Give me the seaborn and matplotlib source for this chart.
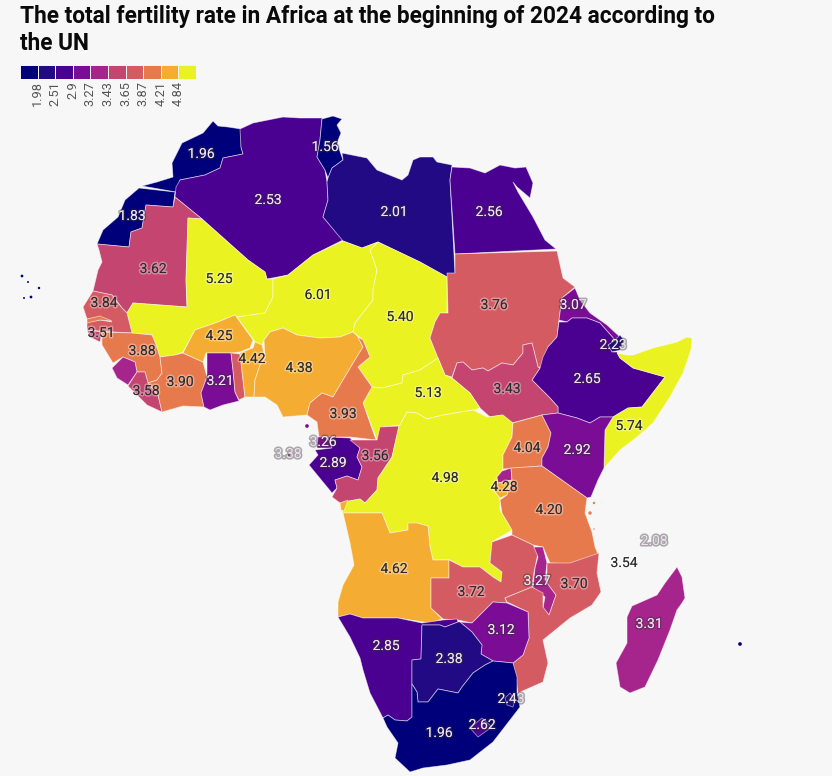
import matplotlib
matplotlib.use("Agg")
import matplotlib.pyplot as plt
import matplotlib.patheffects as pe
from matplotlib.colors import ListedColormap
import bisect
import numpy as np
import pandas as pd
import seaborn as sns

BG = "#f7f7f7"
sns.set_theme(style="white", rc={"figure.facecolor": BG, "axes.facecolor": BG})
plt.rcParams["font.family"] = ["Roboto", "DejaVu Sans"]

TITLE = "The total fertility rate in Africa at the beginning of 2024 according to\nthe UN"
BREAKS = [1.98, 2.51, 2.9, 3.27, 3.43, 3.65, 3.87, 4.21, 4.84]
BREAK_LABELS = ["1.98", "2.51", "2.9", "3.27", "3.43", "3.65", "3.87", "4.21", "4.84"]
COLORS = ["#00007a", "#210a84", "#4a0091", "#7a0c96", "#a6258d",
          "#c4456f", "#d55b63", "#e77a4c", "#f4ad32", "#ebf222"]

COUNTRIES = ["Morocco", "W. Sahara", "Algeria", "Tunisia", "Libya", "Egypt", "Mauritania", "Mali", "Niger",
             "Chad", "Sudan", "Eritrea", "Djibouti", "Ethiopia", "Somalia", "S. Sudan", "CAR", "Senegal",
             "Gambia", "Guinea-Bissau", "Guinea", "Sierra Leone", "Liberia", "Ivory Coast", "Burkina Faso",
             "Ghana", "Togo", "Benin", "Nigeria", "Cameroon", "Eq. Guinea", "Gabon", "Congo", "DR Congo",
             "Uganda", "Kenya", "Rwanda", "Burundi", "Tanzania", "Angola", "Cabinda", "Zambia", "Malawi",
             "Mozambique", "Zimbabwe", "Madagascar", "Namibia", "Botswana", "South Africa", "Lesotho",
             "Eswatini"]
VALUES = [1.96, 1.83, 2.53, 1.56, 2.01, 2.56, 3.62, 5.25, 6.01,
          5.40, 3.76, 3.07, 2.23, 2.65, 5.74, 3.43, 5.13, 3.84,
          4.00, 3.51, 3.88, 3.30, 3.58, 3.90, 4.25,
          3.21, 3.80, 4.42, 4.38, 3.93, 3.26, 2.89, 3.56, 4.98,
          4.04, 2.92, 3.30, 4.28, 4.20, 4.62, 4.62, 3.72, 3.27,
          3.70, 3.12, 3.31, 2.85, 2.38, 1.96, 2.62, 2.43]

OUTLINES = {
 "Morocco": [(213,121),(218,126),(228,127),(241,129),(241,147),(243,154),(223,158),(220,168),(205,175),(180,180),(176,192),(142,186),(157,182),(173,177),(172,163),(182,143),(203,133)],
 "W. Sahara": [(139,188),(175,192),(173,207),(146,205),(142,228),(131,232),(129,247),(97,244),(103,230),(118,217),(125,200)],
 "Mauritania": [(175,197),(202,219),(188,218),(186,280),(187,307),(133,303),(127,313),(122,308),(112,295),(93,291),(98,270),(102,262),(99,250),(97,244),(129,247),(131,232),(142,228),(146,205),(173,207)],
 "Algeria": [(240,129),(253,123),(283,117),(300,118),(322,118),(320,140),(317,157),(325,170),(327,182),(328,200),(323,217),(343,240),(313,255),(288,275),(267,279),(265,272),(248,260),(202,219),(175,197),(176,187),(180,180),(205,175),(220,168),(223,158),(243,154),(241,147)],
 "Tunisia": [(322,119),(333,116),(342,119),(337,125),(341,133),(337,143),(343,160),(332,168),(328,178),(325,170),(317,157),(320,140)],
 "Libya": [(342,153),(367,158),(377,170),(402,180),(408,175),(413,160),(420,157),(433,157),(437,162),(452,165),(450,180),(455,273),(447,277),(420,262),(378,242),(362,248),(343,241),(323,217),(328,200),(327,182),(328,178),(332,168),(343,160)],
 "Egypt": [(452,167),(470,168),(485,173),(500,165),(515,168),(526,167),(533,183),(530,198),(517,187),(513,182),(518,192),(533,217),(545,240),(556,249),(455,254),(450,180)],
 "Sudan": [(455,254),(557,251),(563,278),(575,287),(562,298),(559,320),(557,337),(548,347),(542,367),(538,367),(532,343),(523,345),(523,353),(513,365),(502,363),(488,371),(483,368),(472,370),(463,362),(457,363),(452,377),(445,375),(438,358),(430,338),(435,322),(440,313),(448,313),(447,273),(455,273)],
 "S. Sudan": [(457,363),(463,362),(472,370),(483,368),(488,371),(502,363),(513,365),(523,353),(523,345),(532,343),(538,367),(540,368),(532,380),(550,398),(558,407),(558,413),(542,415),(512,423),(502,415),(490,417),(480,408),(470,393),(452,378)],
 "Eritrea": [(575,288),(580,300),(590,313),(607,325),(620,337),(615,340),(600,323),(587,318),(572,318),(567,322),(559,320),(562,298)],
 "Djibouti": [(620,335),(624,340),(620,350),(612,352),(608,345),(615,340)],
 "Ethiopia": [(559,322),(567,322),(572,318),(587,318),(600,323),(615,340),(608,345),(612,352),(617,352),(620,358),(633,368),(665,377),(642,407),(628,408),(613,417),(600,417),(590,423),(577,418),(558,413),(558,407),(550,398),(532,380),(540,368),(543,357),(548,347),(557,337)],
 "Somalia": [(617,353),(627,355),(633,355),(653,348),(677,342),(687,337),(692,338),(691,350),(683,373),(670,397),(653,423),(637,437),(620,450),(604,468),(605,430),(613,417),(628,408),(642,407),(665,377),(633,368),(620,358)],
 "Kenya": [(542,415),(558,413),(577,418),(590,423),(600,417),(613,417),(605,430),(604,468),(598,480),(591,497),(587,498),(542,466),(542,458),(548,447),(551,433)],
 "Uganda": [(513,423),(542,415),(551,433),(548,447),(542,458),(542,466),(503,469),(503,455),(512,437)],
 "Tanzania": [(511,468),(542,466),(587,498),(585,513),(592,532),(595,547),(598,554),(573,564),(550,563),(543,547),(533,545),(512,535),(512,530),(502,513),(500,500),(507,495),(512,480)],
 "Rwanda": [(497,477),(502,471),(511,468),(512,480),(498,483)],
 "Burundi": [(498,483),(512,480),(507,495),(500,498),(492,488)],
 "DR Congo": [(400,425),(407,412),(417,413),(427,419),(443,415),(473,410),(487,417),(503,415),(513,423),(512,437),(503,455),(503,469),(497,477),(498,483),(492,488),(500,498),(500,510),(512,530),(492,542),(490,563),(502,572),(501,582),(493,577),(480,567),(463,567),(450,560),(433,560),(430,547),(428,526),(417,523),(408,525),(408,530),(390,533),(382,513),(342,513),(344,502),(360,499),(365,503),(377,490),(378,478),(392,457),(399,426)],
 "Chad": [(378,242),(420,262),(447,277),(447,313),(440,313),(435,322),(430,338),(438,358),(420,370),(403,375),(402,383),(382,388),(372,387),(358,367),(370,357),(363,340),(353,332),(355,323),(373,300),(373,290),(377,270),(370,250)],
 "Niger": [(343,241),(362,248),(378,242),(370,250),(377,270),(373,290),(373,300),(355,323),(353,332),(340,337),(320,338),(297,335),(283,328),(270,332),(264,340),(262,345),(255,342),(253,339),(237,317),(265,313),(273,297),(273,279),(288,275),(313,255)],
 "Mali": [(188,218),(202,219),(248,260),(265,272),(267,279),(273,279),(273,297),(265,313),(237,317),(235,315),(218,322),(195,330),(183,352),(175,355),(160,357),(155,342),(152,335),(132,333),(127,313),(133,303),(187,307),(186,280)],
 "Burkina Faso": [(195,330),(218,322),(235,315),(253,340),(250,348),(240,352),(231,353),(206,353),(203,362),(183,353)],
 "Ghana": [(207,353),(231,353),(233,370),(235,392),(239,401),(223,405),(210,410),(204,407),(201,393),(207,377)],
 "Togo": [(231,353),(240,354),(245,397),(239,400),(235,392),(233,370)],
 "Benin": [(240,353),(253,348),(255,342),(262,345),(265,358),(260,365),(255,380),(254,397),(245,397)],
 "Nigeria": [(264,340),(270,332),(283,328),(297,335),(320,338),(340,337),(353,332),(358,337),(363,347),(355,360),(343,380),(333,397),(322,393),(310,403),(307,415),(283,417),(277,405),(265,397),(254,397),(255,380),(260,365),(265,358)],
 "Cameroon": [(358,337),(363,340),(370,357),(358,367),(372,387),(363,403),(376,440),(350,437),(319,437),(317,422),(307,415),(310,403),(322,393),(333,397),(343,380),(355,360),(363,347)],
 "CAR": [(420,370),(438,358),(445,375),(452,378),(470,393),(480,408),(473,410),(443,415),(427,419),(417,413),(407,412),(400,425),(383,427),(377,440),(363,403),(372,387),(382,388),(402,383),(403,375)],
 "Congo": [(350,440),(377,440),(380,427),(399,426),(392,457),(378,478),(377,490),(365,503),(360,499),(344,502),(340,503),(332,497),(337,488),(335,480),(347,476),(358,480),(362,467),(357,457),(360,448)],
 "Eq. Guinea": [(318,437),(328,437),(332,448),(317,448)],
 "Gabon": [(328,437),(350,438),(360,448),(357,457),(362,467),(358,480),(347,476),(335,480),(337,488),(332,493),(309,465),(318,455),(315,450),(332,448)],
 "Cabinda": [(340,503),(348,500),(344,511),(341,510)],
 "Angola": [(343,513),(382,513),(390,533),(408,530),(408,523),(417,523),(428,526),(430,547),(433,560),(449,560),(449,578),(431,578),(431,608),(442,619),(430,623),(398,618),(363,618),(350,614),(338,617),(338,602),(343,585),(354,565),(350,543)],
 "Zambia": [(449,560),(463,567),(480,567),(493,577),(501,582),(502,572),(490,563),(492,542),(512,535),(533,545),(538,553),(534,572),(532,587),(505,598),(507,603),(493,602),(478,617),(472,623),(458,620),(443,619),(431,608),(431,578),(449,578)],
 "Malawi": [(534,547),(543,547),(547,563),(545,580),(556,595),(549,615),(543,608),(545,597),(533,588),(535,568),(538,557)],
 "Mozambique": [(547,563),(570,563),(599,553),(597,573),(601,592),(592,605),(570,618),(543,640),(548,663),(543,682),(518,693),(513,663),(523,655),(529,638),(528,612),(507,602),(505,598),(532,587),(543,593),(543,607),(549,615),(556,595),(547,583)],
 "Zimbabwe": [(493,602),(507,603),(528,612),(529,638),(523,655),(513,663),(493,661),(481,654),(482,645),(472,632),(460,622),(472,623),(478,617)],
 "Namibia": [(338,617),(350,614),(363,618),(398,618),(422,623),(443,620),(457,619),(458,622),(445,627),(440,625),(422,625),(421,659),(412,660),(412,717),(407,721),(395,720),(388,715),(383,718),(370,693),(363,670),(360,658),(350,637)],
 "Botswana": [(422,625),(440,625),(445,627),(458,622),(460,622),(472,632),(482,645),(481,654),(493,661),(485,665),(473,673),(462,687),(458,693),(438,689),(428,702),(418,702),(417,692),(412,684),(412,660),(421,659)],
 "South Africa": [(383,718),(388,715),(395,720),(407,721),(412,717),(412,684),(417,692),(418,702),(428,702),(438,689),(458,693),(462,687),(473,673),(485,665),(493,661),(513,663),(517,677),(517,693),(520,707),(510,720),(493,742),(470,760),(447,765),(423,768),(410,772),(395,758),(398,743),(387,727)],
 "Eswatini": [(510,693),(515,700),(513,707),(507,705),(505,698)],
 "Lesotho": [(482,718),(492,727),(478,737),(470,728)],
 "Madagascar": [(677,567),(682,577),(685,598),(682,603),(677,610),(670,630),(658,660),(645,687),(630,693),(620,687),(616,663),(627,643),(627,617),(632,606),(657,595),(665,583)],
 "Senegal": [(83,307),(93,291),(112,295),(122,308),(127,313),(132,333),(113,332),(87,330),(87,322),(100,320),(112,322),(100,317),(87,319)],
 "Gambia": [(87,319),(100,316),(112,321),(100,320),(87,323)],
 "Guinea-Bissau": [(87,330),(102,332),(100,342),(90,337)],
 "Guinea": [(102,332),(132,333),(152,335),(155,342),(160,357),(162,373),(157,380),(148,383),(145,372),(137,372),(135,362),(123,357),(113,363),(102,345)],
 "Sierra Leone": [(123,357),(135,362),(137,372),(128,385),(117,378),(112,368)],
 "Liberia": [(128,386),(137,372),(145,372),(148,383),(158,395),(162,412),(147,405)],
 "Ivory Coast": [(160,357),(175,355),(183,353),(203,362),(207,377),(201,393),(204,407),(183,406),(162,412),(158,395),(148,383),(157,380),(162,373)],
}

ISLAND_VALUES = [1.9, 1.9, 1.9, 1.9, 1.9, 1.4, 3.38, 3.26, 4.2, 4.2, 4.2]
ISLAND_X = [22, 28, 39, 24, 31, 740, 289, 307, 594, 590, 594]
ISLAND_Y = [276, 282, 288, 298, 297, 644, 455, 426, 503, 513, 529]
ISLAND_SIZE = [4, 2, 3, 2, 4, 7, 2, 7, 3, 6, 1]

LABEL_TEXT = ["1.96","1.83","2.53","1.56","2.01","2.56","3.62","5.25","6.01","5.40","3.76","3.07","2.23","2.65",
              "5.74","3.43","5.13","3.84","3.51","3.88","3.58","3.90","4.25","3.21","4.42","4.38","3.93","3.26",
              "2.89","3.56","3.38","4.98","4.04","2.92","4.28","4.20","4.62","3.72","3.27","3.70","3.12","3.31",
              "2.85","2.38","1.96","2.62","2.43","2.08","3.54"]
LABEL_X = [201,132,268,325,394,489,153,219,318,400,494,573,613,587,629,507,428,104,101,142,146,180,219,220,252,299,343,323,
           333,375,288,445,527,577,504,549,394,471,537,574,501,649,386,449,439,482,511,654,624]
LABEL_Y = [154,216,200,147,212,212,269,279,295,317,305,305,345,379,426,389,393,303,333,351,391,382,336,381,359,368,414,442,
           463,456,454,478,448,450,487,510,569,592,581,584,630,624,646,659,733,725,699,541,563]


def bin_color(v):
    return COLORS[bisect.bisect_right(BREAKS, v)]


fig = plt.figure(figsize=(8.32, 7.76), dpi=100, facecolor=BG)
ax = fig.add_axes([0, 0, 1, 1])

for name, value in zip(COUNTRIES, VALUES):
    xs, ys = zip(*OUTLINES[name])
    ax.fill(xs, ys, facecolor=bin_color(value), edgecolor=(1, 1, 1, 0.55), linewidth=0.6, zorder=2)

islands = pd.DataFrame({"x": ISLAND_X, "y": ISLAND_Y, "s": ISLAND_SIZE,
                        "c": [bin_color(v) for v in ISLAND_VALUES]})
sns.scatterplot(data=islands, x="x", y="y", size="s", sizes=(1, 7), hue="c",
                palette={c: c for c in islands["c"].unique()}, legend=False,
                linewidth=0, ax=ax, zorder=3)
ax.set_xlim(0, 832)
ax.set_ylim(776, 0)
ax.axis("off")

for t, x, y in zip(LABEL_TEXT, LABEL_X, LABEL_Y):
    v = float(t)
    light = v < 3.4
    col = "#f1e4f2" if light else "#2b2b2b"
    halo = (0.2, 0.2, 0.2, 0.4) if light else (1, 1, 1, 0.35)
    ax.text(x, y, t, fontsize=10, color=col, ha="center", va="center", zorder=5,
            path_effects=[pe.withStroke(linewidth=2.2, foreground=halo)])

ax.text(20, 5, TITLE, fontsize=16.3, fontweight="bold", color="#0a0a0a", va="top", ha="left",
        linespacing=1.2, zorder=6)

# legend
lax = fig.add_axes([20 / 832, 1 - 78.5 / 776, 176 / 832, 14 / 776])
sns.heatmap(np.arange(10).reshape(1, 10), ax=lax, cmap=ListedColormap(sns.color_palette(COLORS)),
            vmin=0, vmax=9, cbar=False, linewidths=0.6, linecolor="#f2f2f2", square=False)
lax.set_yticks([])
lax.set_xticks(np.arange(1, 10))
lax.set_xticklabels(BREAK_LABELS, rotation=90, fontsize=9.2, color="#555555")
lax.tick_params(axis="x", length=0, pad=2)
lax.set_xlabel("")
lax.set_ylabel("")

fig.savefig("out.png", dpi=100, facecolor=BG)
